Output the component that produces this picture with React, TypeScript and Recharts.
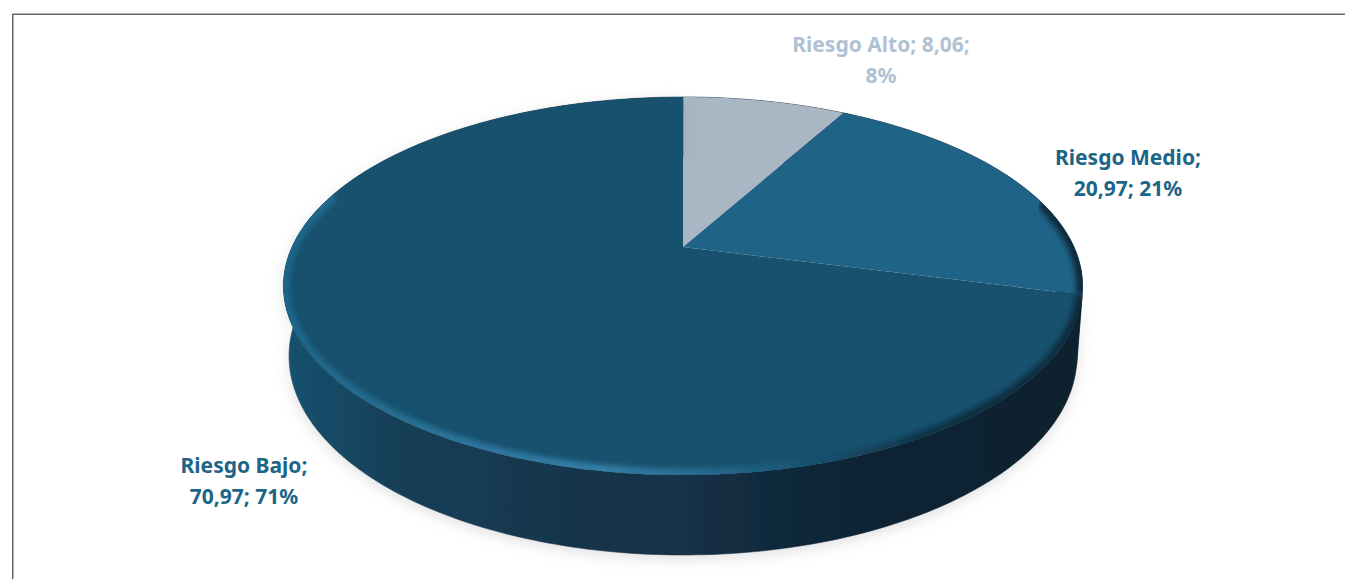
import React from "react";
import { PieChart, Pie } from "recharts";

const categories = ["Riesgo Alto", "Riesgo Medio", "Riesgo Bajo"];
const seriesValues = [8.06, 20.97, 70.97];
const valueLabels = ["8,06", "20,97", "70,97"];

const faceColors = ["#a9b7c4", "#1f6386", "#17516e"];
const labelColors = ["#aec2d3", "#1c6587", "#1c6587"];

const rows = categories.map((name, i) => ({ name, value: seriesValues[i] }));

// Tilted disc: the pie's unit circle goes through a projective map, so the
// apex sits above the centre of the ellipse as it does on a receding disc.
const CX = 683;
const TILT = 0.2063;
const topFace = { s: 391, y0: 247, b: -130 };
const baseFace = { s: 385.5, y0: 315, b: -125.5 };

type Face = typeof topFace;
const project = (f: Face, X: number, Y: number): [number, number] => {
  const w = 1 + TILT * Y;
  return [CX + (f.s * X) / w, (f.y0 + f.b * Y) / w];
};
// t is measured clockwise from the top of the disc, in degrees
const onRim = (f: Face, t: number) => {
  const r = (t * Math.PI) / 180;
  return project(f, Math.sin(r), Math.cos(r));
};
const arcPoints = (f: Face, a: number, b: number) => {
  const n = Math.max(2, Math.ceil(Math.abs(b - a)));
  const pts: [number, number][] = [];
  for (let i = 0; i <= n; i++) pts.push(onRim(f, a + ((b - a) * i) / n));
  return pts;
};
const toPath = (pts: [number, number][], close = true) =>
  pts.map((p, i) => `${i ? "L" : "M"}${p[0].toFixed(2)} ${p[1].toFixed(2)}`).join("") + (close ? "Z" : "");

const RIM_FROM = 75;
const RIM_TO = 288;

function DiscSlice(props: any) {
  const a = 90 - props.startAngle;
  const b = 90 - props.endAngle;
  const i = categories.indexOf(props.name);
  const face = toPath([project(topFace, 0, 0), ...arcPoints(topFace, a, b)]);
  const wall = toPath([...arcPoints(topFace, a, b), ...arcPoints(baseFace, b, a)]);
  const rimA = Math.max(a, RIM_FROM);
  const rimB = Math.min(b, RIM_TO);
  const clipId = `face-clip-${i}`;
  return (
    <g>
      <path
        d={wall}
        fill="url(#wallShade)"
        stroke="url(#wallShade)"
        strokeWidth={0.6}
        filter={i === 2 ? "url(#softShadow)" : undefined}
      />
      <clipPath id={clipId}>
        <path d={face} />
      </clipPath>
      <path d={face} fill={faceColors[i]} />
      {rimB > rimA && (
        <g clipPath={`url(#${clipId})`}>
          <path
            d={toPath(arcPoints(topFace, rimA, rimB), false)}
            fill="none"
            stroke="url(#rimShade)"
            strokeWidth={13}
            filter="url(#rimBlur)"
          />
        </g>
      )}
    </g>
  );
}

function SliceLabel(props: any) {
  const i = categories.indexOf(props.name);
  const [x, y] = labelAnchors[i];
  const pct = `${Math.round(props.percent * 100)}%`;
  const lines = i === 0
    ? [`${props.name}; ${valueLabels[i]};`, pct]
    : [`${props.name};`, `${valueLabels[i]}; ${pct}`];
  return (
    <text
      x={x}
      y={y}
      textAnchor="middle"
      fill={labelColors[i]}
      fontFamily="'Noto Sans', sans-serif"
      fontWeight={700}
      fontSize={21}
    >
      <tspan x={x}>{lines[0]}</tspan>
      <tspan x={x} dy={31}>{lines[1]}</tspan>
    </text>
  );
}

// first-line baseline and centre of each label, in chart pixels
const labelAnchors = [
  [881, 52],
  [1128, 165],
  [244, 473],
];

export default function App() {
  return (
    <div style={{ position: "absolute", left: 0, top: 0, width: 1360, height: 579, background: "#fff", overflow: "hidden" }}>
      <svg width={1360} height={579} style={{ position: "absolute", left: 0, top: 0 }}>
        <path d="M12.75 579V14.25H1345" fill="none" stroke="#666" strokeWidth={1.5} />
      </svg>
      <PieChart width={1360} height={579} style={{ position: "absolute", left: 0, top: 0 }}>
        <defs>
          <linearGradient id="wallShade" gradientUnits="userSpaceOnUse" x1={283} y1={0} x2={1083} y2={0}>
            <stop offset="0" stopColor="#18526f" />
            <stop offset="0.14" stopColor="#153f58" />
            <stop offset="0.35" stopColor="#14364d" />
            <stop offset="0.53" stopColor="#132f45" />
            <stop offset="0.72" stopColor="#0e2433" />
            <stop offset="1" stopColor="#0b202d" />
          </linearGradient>
          <linearGradient id="rimShade" gradientUnits="userSpaceOnUse" x1={283} y1={0} x2={1083} y2={0}>
            <stop offset="0" stopColor="#1d6487" />
            <stop offset="0.2" stopColor="#2a7298" />
            <stop offset="0.4" stopColor="#347ea6" />
            <stop offset="0.55" stopColor="#22668a" />
            <stop offset="0.66" stopColor="#17516e" />
            <stop offset="0.82" stopColor="#0f3043" />
            <stop offset="1" stopColor="#0e2c3e" />
          </linearGradient>
          <filter id="rimBlur" x="-5%" y="-5%" width="110%" height="110%">
            <feGaussianBlur stdDeviation="2.5" />
          </filter>
          <filter id="softShadow" x="-5%" y="-5%" width="110%" height="115%">
            <feDropShadow dx="0" dy="4" stdDeviation="7" floodColor="#777" floodOpacity="0.22" />
          </filter>
        </defs>
        <Pie
          data={rows}
          dataKey="value"
          nameKey="name"
          cx={CX}
          cy={247}
          outerRadius={150}
          startAngle={90}
          endAngle={-270}
          paddingAngle={0}
          stroke="none"
          isAnimationActive={false}
          shape={DiscSlice}
          label={SliceLabel}
          labelLine={false}
        />
      </PieChart>
    </div>
  );
}
